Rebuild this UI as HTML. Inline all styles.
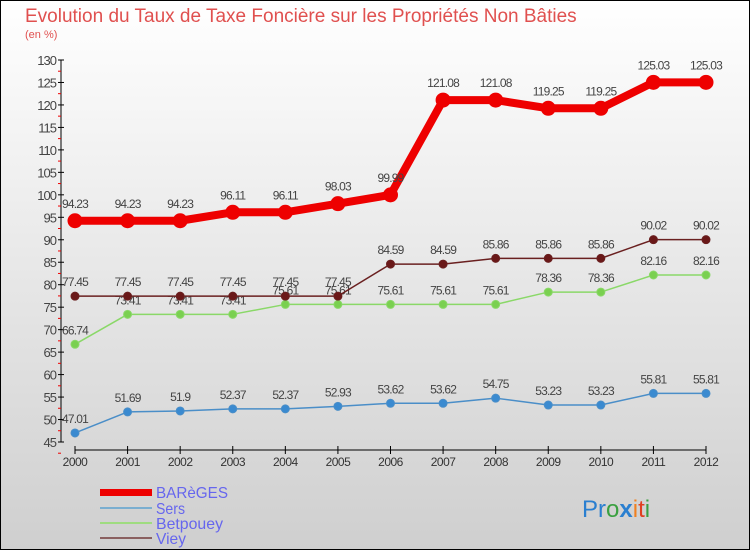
<!DOCTYPE html>
<html><head><meta charset="utf-8"><style>
body{margin:0;width:750px;height:550px;overflow:hidden}
svg{display:block;font-family:"Liberation Sans",sans-serif}
</style></head><body>
<svg width="750" height="550">
<defs><linearGradient id="bg" x1="0" y1="0" x2="0" y2="1"><stop offset="0" stop-color="#ffffff"/><stop offset="1" stop-color="#cfcfcf"/></linearGradient></defs>
<rect x="0.5" y="0.5" width="749" height="549" fill="url(#bg)" stroke="#000"/>
<text x="25" y="22" font-size="19" fill="#e0504f">Evolution du Taux de Taxe Foncière sur les Propriétés Non Bâties</text>
<text x="25" y="38" font-size="11" fill="#e0504f">(en %)</text>
<g id="axes"></g>
<g id="series"></g>
<g id="legend">
<rect x="100" y="489" width="52" height="7" fill="#ee0000"/>
<text x="156" y="498" font-size="16" fill="#6666ee" textLength="72" lengthAdjust="spacingAndGlyphs">BARèGES</text>
<rect x="100" y="507" width="52" height="2" fill="#7aaed0"/>
<text x="156" y="514" font-size="16" fill="#6666ee" textLength="29" lengthAdjust="spacingAndGlyphs">Sers</text>
<rect x="100" y="522" width="52" height="2" fill="#9fdc80"/>
<text x="156" y="529" font-size="16" fill="#6666ee" textLength="67" lengthAdjust="spacingAndGlyphs">Betpouey</text>
<rect x="100" y="537" width="52" height="2" fill="#8a6060"/>
<text x="156" y="544" font-size="16" fill="#6666ee" textLength="30" lengthAdjust="spacingAndGlyphs">Viey</text>
</g>
<text x="582" y="517" font-size="24"><tspan fill="#2a7fd0">Pr</tspan><tspan fill="#3aa040">o</tspan><tspan fill="#2a7fd0" font-weight="bold">x</tspan><tspan fill="#f08020">i</tspan><tspan fill="#e04020">t</tspan><tspan fill="#3aa040">i</tspan></text>
</svg>
<script>
const years=[2000,2001,2002,2003,2004,2005,2006,2007,2008,2009,2010,2011,2012];
const bareges=[94.23,94.23,94.23,96.11,96.11,98.03,99.99,121.08,121.08,119.25,119.25,125.03,125.03];
const sers=[47.01,51.69,51.9,52.37,52.37,52.93,53.62,53.62,54.75,53.23,53.23,55.81,55.81];
const betpouey=[66.74,73.41,73.41,73.41,75.61,75.61,75.61,75.61,75.61,78.36,78.36,82.16,82.16];
const viey=[77.45,77.45,77.45,77.45,77.45,77.45,84.59,84.59,85.86,85.86,85.86,90.02,90.02];
const yTicks=[45,50,55,60,65,70,75,80,85,90,95,100,105,110,115,120,125,130];
const NS="http://www.w3.org/2000/svg";
const xS=i=>75+i*(706-75)/(years.length-1);
const yS=v=>442-(v-45)*(382/85);
function mk(t,a,p){const e=document.createElementNS(NS,t);for(const k in a)e.setAttribute(k,a[k]);p.appendChild(e);return e;}
const ax=document.getElementById('axes');
const yl=mk('line',{x1:61,y1:yS(130),x2:61,y2:yS(45),stroke:'#000'},ax);


yTicks.forEach(v=>{
 const y=yS(v);
 mk('line',{x1:58,y1:y,x2:64,y2:y,stroke:'#000'},ax);
 mk('line',{x1:58,y1:y+11.2,x2:61,y2:y+11.2,stroke:'#e00'},ax);
 const t=mk('text',{x:56,y:y+5,'font-size':13,'text-anchor':'end',fill:'#444','letter-spacing':'-1'},ax);
 
 
 t.textContent=v;
});
const xl=mk('line',{x1:xS(0),y1:450,x2:xS(12),y2:450,stroke:'#000'},ax);


years.forEach((yr,i)=>{
 mk('line',{x1:xS(i),y1:446,x2:xS(i),y2:454,stroke:'#000'},ax);
 const t=mk('text',{x:xS(i),y:466,'font-size':12,'text-anchor':'middle',fill:'#333','letter-spacing':'-0.5'},ax);
 
 
 t.textContent=yr;
});
const sg=document.getElementById('series');
function draw(name,vals,col,w,r,fill){
 const g=mk('g',{},sg);
 
 
 const pl=mk('polyline',{points:vals.map((v,i)=>xS(i)+','+yS(v)).join(' '),fill:'none',stroke:col,'stroke-width':w,'stroke-linejoin':'round'},g);
 
 
 vals.forEach((v,i)=>{
  const c=mk('circle',{cx:xS(i),cy:yS(v),r:r,fill:fill,stroke:col,'stroke-width':1},g);
  
  
  const t=mk('text',{x:xS(i),y:yS(v)-(r+6),'font-size':12,'text-anchor':'middle',fill:'#444','letter-spacing':'-0.8'},g);
  
  
  t.textContent=v;
 });
}
draw('sers',sers,'#4a8ec8',1.5,4,'#3a8ad0');
draw('betpouey',betpouey,'#8ad868',1.5,4,'#7ad050');
draw('viey',viey,'#6a2020',1.5,4,'#6a1818');
draw('bareges',bareges,'#ee0000',8,7,'#ee0000');
</script>
</body></html>
